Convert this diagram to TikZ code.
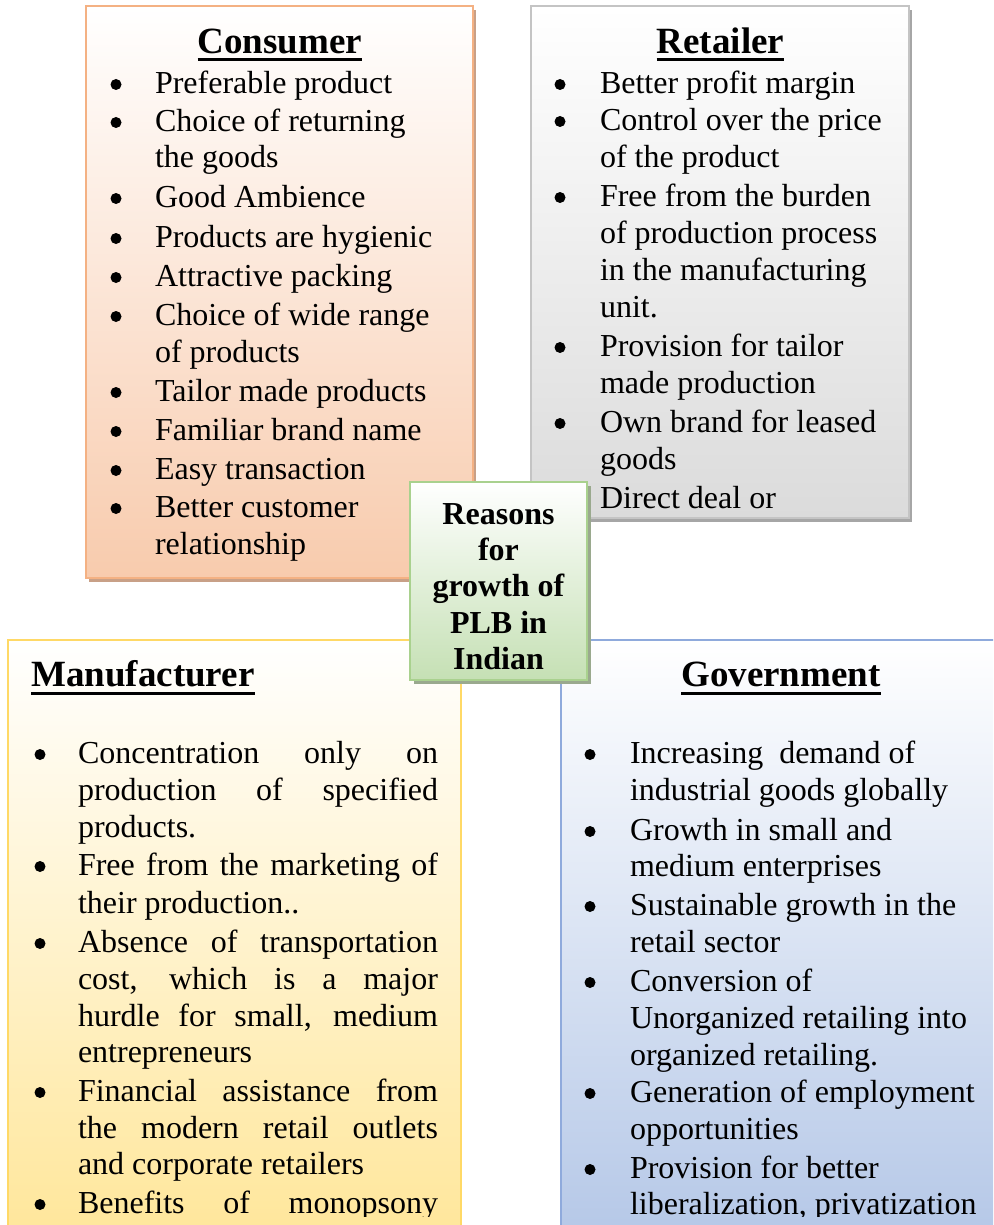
\documentclass[tikz,border=0pt]{standalone}
\usepackage{fontspec}
\setmainfont{Liberation Serif}
\usetikzlibrary{shadows}
\definecolor{cfill}{HTML}{F8CBAD}
\definecolor{cborder}{HTML}{F4B183}
\definecolor{cshadow}{RGB}{200,160,135}
\definecolor{rfill}{HTML}{DBDBDB}
\definecolor{rborder}{HTML}{C4C4C4}
\definecolor{rshadow}{HTML}{A6A6A6}
\definecolor{gfill}{HTML}{C5E0B4}
\definecolor{gborder}{HTML}{A9D18E}
\definecolor{gshadow}{HTML}{9AA98E}
\definecolor{mfill}{HTML}{FFE699}
\definecolor{mborder}{HTML}{FFD966}
\definecolor{vfill}{HTML}{B4C7E7}
\definecolor{vborder}{HTML}{8FAADC}
\tikzset{
  txt/.style={anchor=base west, inner sep=0pt, outer sep=0pt, yshift=-1.5pt, font=\fontsize{32}{36}\selectfont},
  ctr/.style={anchor=base, inner sep=0pt, yshift=-1pt, font=\bfseries\fontsize{32}{36}\selectfont},
  head/.style={anchor=base, inner sep=0pt, yshift=-1.5pt, font=\bfseries\fontsize{37}{40}\selectfont},
  dot/.style={circle, fill=black, inner sep=0pt, yshift=-1.5pt, minimum size=11pt},
  panel/.style={rectangle, inner sep=0pt, line width=2pt},
  uline/.style={line width=3pt},
}
\newcommand\mydot[3]{\node[dot] (#1) at (#2,#3-9) {};}
\newcommand\myline[4]{\node[txt] (#1) at (#2,#3) {#4};}
\newcommand\jus[1]{\makebox[360pt][s]{#1}}
\begin{document}
\begin{tikzpicture}[x=1pt,y=-1pt]
\useasboundingbox (0,0) rectangle (993,1225);
\clip (0,0) rectangle (993,1225);
% panels
\node[panel, draw=cborder, top color=white, bottom color=cfill,
  drop shadow={shadow xshift=3pt, shadow yshift=-4pt, fill=cshadow, opacity=1},
  minimum width=387pt, minimum height=572pt] (cons) at (279.5,292) {};
\node[panel, draw=rborder, top color=white, bottom color=rfill,
  drop shadow={shadow xshift=3pt, shadow yshift=-4pt, fill=rshadow, opacity=1},
  minimum width=378pt, minimum height=512pt] (ret) at (720,262) {};
\node[panel, draw=mborder, top color=white, bottom color=mfill,
  minimum width=453pt, minimum height=605pt] (man) at (234.5,942.5) {};
\node[panel, draw=vborder, top color=white, bottom color=vfill,
  minimum width=440pt, minimum height=605pt] (gov) at (781,942.5) {};
% Consumer
\node[head] (hc) at (280,52) {Consumer};
\draw[uline] ([yshift=-6.5pt]hc.base west) -- ([yshift=-6.5pt]hc.base east);
\mydot{cb1}{116}{92}\myline{c1}{155}{92}{Preferable product}
\mydot{cb2}{116}{130}\myline{c2}{155}{130}{Choice of returning}
\myline{c3}{155}{166}{the goods}
\mydot{cb4}{116}{206}\myline{c4}{155}{206}{Good Ambience}
\mydot{cb5}{116}{246}\myline{c5}{155}{246}{Products are hygienic}
\mydot{cb6}{116}{285}\myline{c6}{155}{285}{Attractive packing}
\mydot{cb7}{116}{324}\myline{c7}{155}{324}{Choice of wide range}
\myline{c8}{155}{361}{of products}
\mydot{cb9}{116}{400}\myline{c9}{155}{400}{Tailor made products}
\mydot{cb10}{116}{439}\myline{c10}{155}{439}{Familiar brand name}
\mydot{cb11}{116}{478}\myline{c11}{155}{478}{Easy transaction}
\mydot{cb12}{116}{516}\myline{c12}{155}{516}{Better customer}
\myline{c13}{155}{553}{relationship}
% Retailer
\node[head] (hr) at (720.5,52) {Retailer};
\draw[uline] ([yshift=-6.5pt]hr.base west) -- ([yshift=-6.5pt]hr.base east);
\mydot{rb1}{560}{92}\myline{r1}{600}{92}{Better profit margin}
\mydot{rb2}{560}{129}\myline{r2}{600}{129}{Control over the price}
\myline{r3}{600}{166}{of the product}
\mydot{rb4}{560}{205}\myline{r4}{600}{205}{Free from the burden}
\myline{r5}{600}{242}{of production process}
\myline{r6}{600}{279}{in the manufacturing}
\myline{r7}{600}{316}{unit.}
\mydot{rb8}{560}{355}\myline{r8}{600}{355}{Provision for tailor}
\myline{r9}{600}{392}{made production}
\mydot{rb10}{560}{431}\myline{r10}{600}{431}{Own brand for leased}
\myline{r11}{600}{468}{goods}
\myline{r12}{600}{507}{Direct deal or}
% Manufacturer and Government text, clipped like the text boxes
\begin{scope}
\clip (0,0) rectangle (993,1216);
\node[head, anchor=base west] (hm) at (31,685) {Manufacturer};
\draw[uline] ([yshift=-6.5pt]hm.base west) -- ([yshift=-6.5pt]hm.base east);
\mydot{mb1}{40}{762}\myline{m1}{78}{762}{\jus{Concentration only on}}
\myline{m2}{78}{799}{\jus{production of specified}}
\myline{m3}{78}{836}{products.}
\mydot{mb4}{40}{874}\myline{m4}{78}{874}{\jus{Free from the marketing of}}
\myline{m5}{78}{912}{their production..}
\mydot{mb6}{40}{951}\myline{m6}{78}{951}{\jus{Absence of transportation}}
\myline{m7}{78}{988}{\jus{cost, which is a major}}
\myline{m8}{78}{1025}{\jus{hurdle for small, medium}}
\myline{m9}{78}{1061}{entrepreneurs}
\mydot{mb10}{40}{1100}\myline{m10}{78}{1100}{\jus{Financial assistance from}}
\myline{m11}{78}{1137}{\jus{the modern retail outlets}}
\myline{m12}{78}{1173}{and corporate retailers}
\mydot{mb13}{40}{1212}\myline{m13}{78}{1212}{\jus{Benefits of monopsony}}
% Government
\node[head] (hg) at (781,685) {Government};
\draw[uline] ([yshift=-6.5pt]hg.base west) -- ([yshift=-6.5pt]hg.base east);
\mydot{gb1}{590}{762}\myline{g1}{630}{762}{Increasing\ \ demand of}
\myline{g2}{630}{799}{industrial goods globally}
\mydot{gb3}{590}{839}\myline{g3}{630}{839}{Growth in small and}
\myline{g4}{630}{875}{medium enterprises}
\mydot{gb5}{590}{914}\myline{g5}{630}{914}{Sustainable growth in the}
\myline{g6}{630}{951}{retail sector}
\mydot{gb7}{590}{990}\myline{g7}{630}{990}{Conversion of}
\myline{g8}{630}{1027}{Unorganized retailing into}
\myline{g9}{630}{1064}{organized retailing.}
\mydot{gb10}{590}{1101}\myline{g10}{630}{1101}{Generation of employment}
\myline{g11}{630}{1138}{opportunities}
\mydot{gb12}{590}{1177}\myline{g12}{630}{1177}{Provision for better}
\myline{g13}{630}{1213}{liberalization, privatization}
\end{scope}
% Center
\node[panel, draw=gborder, top color=white, bottom color=gfill,
  drop shadow={shadow xshift=4pt, shadow yshift=-4pt, fill=gshadow, opacity=1},
  minimum width=177pt, minimum height=198pt] (ctrbox) at (498.5,581) {};
\node[ctr] (t1) at (498.5,523) {Reasons};
\node[ctr] (t2) at (498.5,559) {for};
\node[ctr] (t3) at (498.5,595) {growth of};
\node[ctr] (t4) at (498.5,632) {PLB in};
\node[ctr] (t5) at (498.5,668) {Indian};
\end{tikzpicture}
\end{document}
